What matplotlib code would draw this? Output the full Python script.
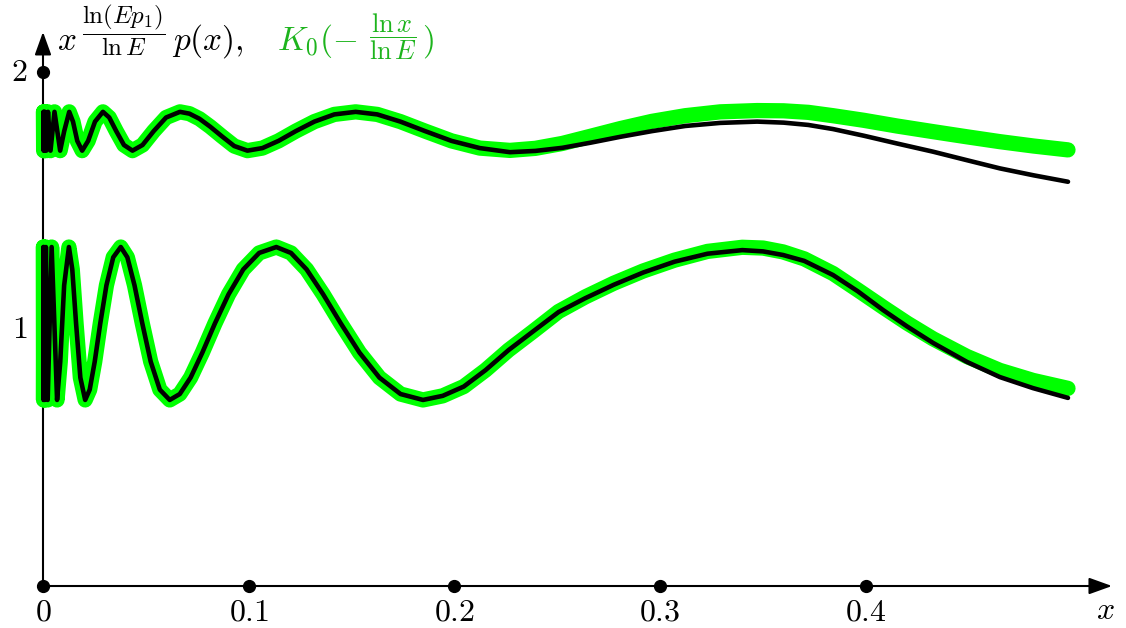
"""
Log-periodic oscillation plot: x^{ln(Ep1)/lnE} p(x) (black) vs K0(-ln x / ln E) (green)
Output: out.png (1126x628)
"""
import matplotlib
matplotlib.use("Agg")
import matplotlib.pyplot as plt

plt.rcParams["mathtext.fontset"] = "cm"

# ─── Data ────────────────────────────────────────────────────────────────────
# upper pair
up_x = [0.000205, 0.000306, 0.000468, 0.0007, 0.00107, 0.0016, 0.00244, 0.00365, 0.00558, 0.00834,
        0.01031, 0.01275,
        0.01458, 0.01666, 0.01904,
        0.02194, 0.02528, 0.02913,
        0.03220, 0.03560, 0.03935, 0.0435,
        0.04838, 0.05380, 0.05983, 0.06654,
        0.07114, 0.07606, 0.08131, 0.08693, 0.09294, 0.09936,
        0.10665, 0.11448, 0.12288, 0.13190, 0.14158, 0.15198,
        0.16249, 0.17372, 0.18573, 0.19857, 0.21230, 0.22696,
        0.23934, 0.25240, 0.26617, 0.28069, 0.29600, 0.31215, 0.32918, 0.3471,
        0.3600, 0.3720, 0.3840, 0.3990, 0.4150, 0.4326, 0.4490, 0.4651, 0.4815, 0.4982]
up_black = [1.845, 1.694, 1.845, 1.694, 1.845, 1.694, 1.845, 1.694, 1.845, 1.694,
            1.770, 1.845,
            1.807, 1.732, 1.694,
            1.732, 1.807, 1.845,
            1.823, 1.770, 1.716, 1.694,
            1.716, 1.770, 1.823, 1.845,
            1.838, 1.818, 1.787, 1.750, 1.712, 1.694,
            1.704, 1.732, 1.770, 1.807, 1.835, 1.845,
            1.835, 1.807, 1.770, 1.732, 1.704, 1.688,
            1.693, 1.705, 1.725, 1.748, 1.770, 1.790, 1.802, 1.807,
            1.803, 1.794, 1.778, 1.752, 1.722, 1.690, 1.657, 1.625, 1.598, 1.573]
# green coincides with black up to x ~ 0.21, then drifts above it
up_green = up_black[:43] + [1.695,
                            1.703, 1.722, 1.750, 1.780, 1.808, 1.830, 1.845, 1.850,
                            1.849, 1.843, 1.830, 1.812, 1.790, 1.768, 1.748, 1.729, 1.712, 1.697]

# lower pair
low_x = [0.000155, 0.000253, 0.000467, 0.00076, 0.0014, 0.00228, 0.0042, 0.00684,
         0.00839, 0.01028, 0.0126,
         0.01423, 0.01607, 0.01815, 0.0205,
         0.02270, 0.02514, 0.02784, 0.03083, 0.03414, 0.0378,
         0.04100, 0.04448, 0.04826, 0.05235, 0.05679, 0.0616,
         0.06648, 0.07175, 0.07744, 0.08358, 0.09020, 0.09735, 0.10507, 0.1134,
         0.12053, 0.12811, 0.13617, 0.14473, 0.15383, 0.16351, 0.17379, 0.1847,
         0.1943, 0.2045, 0.2151, 0.2263, 0.2381, 0.2506, 0.2636, 0.2774, 0.2918, 0.3070, 0.3230, 0.3399,
         0.3500, 0.3597, 0.3700, 0.3840, 0.3960, 0.4083, 0.4200, 0.4326, 0.4491, 0.4651, 0.4812, 0.4982]
low_black = [1.319, 0.724, 1.319, 0.724, 1.319, 0.724, 1.319, 0.724,
             0.873, 1.170, 1.319,
             1.232, 1.022, 0.811, 0.724,
             0.764, 0.873, 1.022, 1.170, 1.279, 1.319,
             1.279, 1.170, 1.022, 0.873, 0.764, 0.724,
             0.747, 0.811, 0.908, 1.022, 1.135, 1.232, 1.296, 1.319,
             1.296, 1.232, 1.135, 1.022, 0.908, 0.811, 0.747, 0.724,
             0.740, 0.776, 0.840, 0.918, 0.990, 1.066, 1.120, 1.172, 1.220, 1.262, 1.293, 1.307,
             1.302, 1.288, 1.265, 1.210, 1.147, 1.074, 1.010, 0.946, 0.872, 0.813, 0.770, 0.732]
low_green = low_black[:48] + [1.068, 1.125, 1.178, 1.226, 1.268, 1.302, 1.318,
                              1.315, 1.300, 1.273, 1.216, 1.152, 1.085, 1.023, 0.962, 0.893,
                              0.839, 0.800, 0.769]

x_ticks = [0, 0.1, 0.2, 0.3, 0.4]
x_tick_labels = ["0", "0.1", "0.2", "0.3", "0.4"]
y_ticks = [1, 2]
y_tick_labels = ["1", "2"]

# ─── Style ───────────────────────────────────────────────────────────────────
LINE_GREEN = "#00ff00"
TEXT_GREEN = "#1db41d"
FS = 23      # tick labels
HFS = 24     # header

fig = plt.figure(figsize=(11.26, 6.28), dpi=100)
ax = fig.add_axes([0, 0, 1, 1])
ax.set_xlim(-0.0209, 0.5264)
ax.set_ylim(-0.1634, 2.2802)
ax.axis("off")

# ─── Axes with arrows ────────────────────────────────────────────────────────
arrow = dict(arrowstyle="-|>,head_length=1.0,head_width=0.36", color="black",
             lw=1.5, shrinkA=0, shrinkB=0, mutation_scale=14)
ax.annotate("", xy=(0.5196, 0), xytext=(0, 0), arrowprops=arrow, zorder=1)
ax.annotate("", xy=(0, 2.156), xytext=(0, 0), arrowprops=arrow, zorder=1)

# tick dots
ax.plot(x_ticks, [0] * len(x_ticks), "o", color="black", ms=8.5, zorder=2)
ax.plot([0] * len(y_ticks), y_ticks, "o", color="black", ms=8.5, zorder=2)

for xv, lab in zip(x_ticks, x_tick_labels):
    ax.text(xv, -0.04, f"${lab}$", ha="center", va="top", fontsize=FS)
for yv, lab in zip(y_ticks, y_tick_labels):
    ax.text(-0.0115, yv, f"${lab}$", ha="center", va="center", fontsize=FS)
ax.text(0.5165, -0.035, "$x$", ha="center", va="top", fontsize=FS)

# ─── Curves ──────────────────────────────────────────────────────────────────
for xs, ys in [(up_x, up_green), (low_x, low_green)]:
    ax.plot(xs, ys, color=LINE_GREEN, lw=11, solid_capstyle="round",
            solid_joinstyle="round", zorder=3)
for xs, ys in [(up_x, up_black), (low_x, low_black)]:
    ax.plot(xs, ys, color="black", lw=3.3, solid_capstyle="round",
            solid_joinstyle="round", zorder=4)

# ─── Header labels (pieced together to get TeX-like sizes) ──────────────────
base = 2.0856
ax.text(0.0068, base, "$x$", ha="left", va="baseline", fontsize=HFS)
ax.text(0.0394, 2.163, r"$\dfrac{\ln(Ep_1)}{\ln E}$", ha="center", va="center", fontsize=18)
ax.text(0.0627, base, "$p(x),$", ha="left", va="baseline", fontsize=HFS)

ax.text(0.1137, base, "$K_0({-}$", color=TEXT_GREEN, ha="left", va="baseline", fontsize=HFS)
ax.text(0.1700, 2.138, r"$\dfrac{\ln x}{\ln E}$", color=TEXT_GREEN,
        ha="center", va="center", fontsize=19)
ax.text(0.1840, base, "$)$", color=TEXT_GREEN, ha="left", va="baseline", fontsize=HFS)

fig.savefig("out.png", dpi=100)
plt.close(fig)
